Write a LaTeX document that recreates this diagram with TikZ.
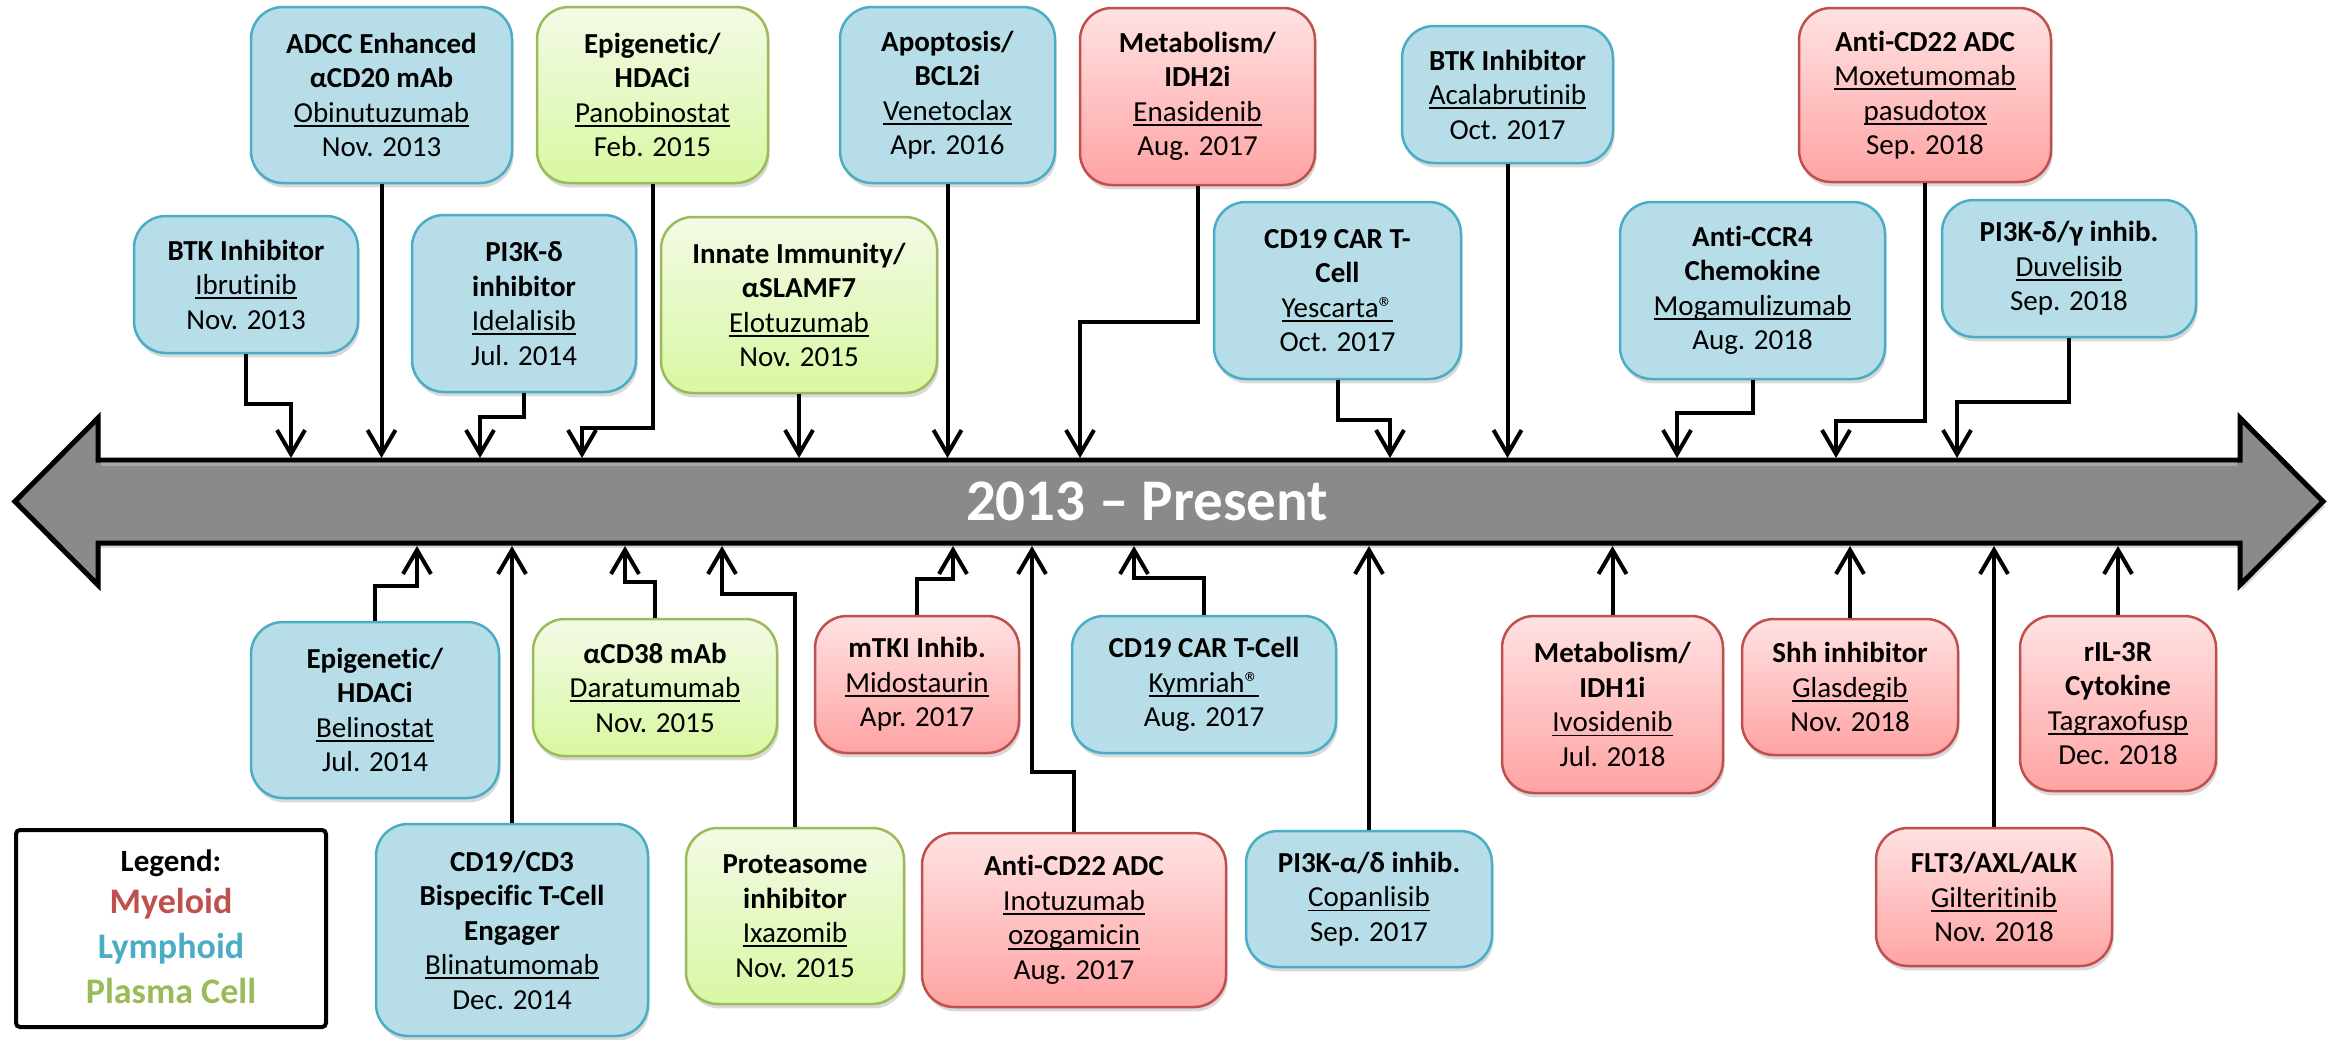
\documentclass[tikz,border=0pt]{standalone}
\usepackage{fontspec}
\setmainfont{Carlito}[Ligatures={NoCommon,NoContextual}]
\usetikzlibrary{arrows.meta,shadows}
\definecolor{lymF}{HTML}{B7DEE8}
\definecolor{lymB}{HTML}{4BACC6}
\definecolor{myeB}{HTML}{C0504D}
\definecolor{myeT}{HTML}{FFE2E2}
\definecolor{myeD}{HTML}{FFA3A3}
\definecolor{plaB}{HTML}{9BBB59}
\definecolor{plaT}{HTML}{F3FAE6}
\definecolor{plaD}{HTML}{D8F8A2}
\definecolor{arrowgray}{HTML}{8A8A8A}
\newsavebox\ulb
\newcommand\ud[1]{\sbox\ulb{#1}\rlap{\rule[-2.3pt]{\wd\ulb}{0.9pt}}\usebox\ulb}
\newcommand\bxf{\fontsize{14.5pt}{17.25pt}\selectfont}
\begin{document}
\begin{tikzpicture}[x=0.5pt,y=-0.5pt,
  cbox/.style={rounded corners=16pt, line width=1.25pt, align=center, inner sep=0pt, font=\bxf,
    drop shadow={shadow xshift=0.8pt, shadow yshift=-2.2pt, opacity=0.3}},
  bluebox/.style={cbox, draw=lymB, fill=lymF},
  redbox/.style={cbox, draw=myeB, top color=myeT, bottom color=myeD},
  greenbox/.style={cbox, draw=plaB, top color=plaT, bottom color=plaD},
  sz/.style 2 args={minimum width=#1, minimum height=#2},
  conn/.style={line width=2pt, line join=miter, -{Straight Barb[length=12pt,width=14pt]}},
  legtext/.style={anchor=base, font=\fontsize{18pt}{21pt}\selectfont\bfseries, inner sep=0pt}
]
\useasboundingbox (0,0) rectangle (2333,1039);

% timeline arrow
\draw[line width=2.5pt, line join=miter, fill=arrowgray,
      drop shadow={shadow xshift=1pt, shadow yshift=-2.5pt, opacity=0.3}]
  (15,501.5) -- (98,418) -- (98,460) -- (2240,460) -- (2240,418) -- (2323,501.5)
  -- (2240,585) -- (2240,543) -- (98,543) -- (98,585) -- cycle;
\draw[white, opacity=0.25, line width=2pt] (101,464) -- (2237,464);
\node[text=white, font=\fontsize{29.5pt}{35pt}\selectfont\bfseries, inner sep=0pt] (title) at (1147,501) {2013 – Present};

% ---------- upper boxes ----------
\node[bluebox, sz={130.5pt}{88pt}] (adcc) at (381.5,95) {\textbf{ADCC Enhanced}\\\textbf{αCD20 mAb}\\\ud{Obinutuzumab}\\Nov. 2013};
\node[greenbox, sz={115.5pt}{88pt}] (pano) at (652.5,95) {\textbf{Epigenetic/}\\\textbf{HDACi}\\\ud{Panobinostat}\\Feb. 2015};
\node[bluebox, sz={107.5pt}{88pt}] (vene) at (947.5,95) {\textbf{Apoptosis/}\\\textbf{BCL2i}\\\ud{Venetoclax}\\Apr. 2016};
\node[redbox, sz={117.5pt}{88.5pt}] (enas) at (1197.5,96.5) {\textbf{Metabolism/}\\\textbf{IDH2i}\\\ud{Enasidenib}\\Aug. 2017};
\node[bluebox, sz={105.5pt}{68.5pt}] (acal) at (1507.5,94.5) {\textbf{BTK Inhibitor}\\\ud{Acalabrutinib}\\Oct. 2017};
\node[redbox, sz={126pt}{87pt}] (moxe) at (1925,95) {\textbf{Anti-CD22 ADC}\\\ud{Moxetumomab}\\\ud{pasudotox}\\Sep. 2018};

\node[bluebox, sz={112pt}{68.5pt}] (ibru) at (246,284.5) {\textbf{BTK Inhibitor}\\\ud{Ibrutinib}\\Nov. 2013};
\node[bluebox, sz={112pt}{88.5pt}] (idel) at (524,303.5) {\textbf{PI3K-δ}\\\textbf{inhibitor}\\\ud{Idelalisib}\\Jul. 2014};
\node[greenbox, sz={138pt}{88pt}] (elot) at (799,305) {\textbf{Innate Immunity/}\\\textbf{αSLAMF7}\\\ud{Elotuzumab}\\Nov. 2015};
\node[bluebox, sz={123.5pt}{88.5pt}] (yesc) at (1337.5,290.5) {\textbf{CD19 CAR T-}\\\textbf{Cell}\\\ud{Yescarta®}\\Oct. 2017};
\node[bluebox, sz={132.5pt}{88.5pt}] (moga) at (1752.5,290.5) {\textbf{Anti-CCR4}\\\textbf{Chemokine}\\\ud{Mogamulizumab}\\Aug. 2018};
\node[bluebox, sz={127pt}{68.5pt}] (duve) at (2069,268.5) {\textbf{PI3K-δ/γ inhib.}\\\ud{Duvelisib}\\Sep. 2018};

% ---------- lower boxes ----------
\node[bluebox, sz={124pt}{88pt}] (beli) at (375,710) {\textbf{Epigenetic/}\\\textbf{HDACi}\\\ud{Belinostat}\\Jul. 2014};
\node[greenbox, sz={122pt}{68.5pt}] (dara) at (655,687.5) {\textbf{αCD38 mAb}\\\ud{Daratumumab}\\Nov. 2015};
\node[redbox, sz={102pt}{68.5pt}] (mido) at (917,684.5) {\textbf{mTKI Inhib.}\\\ud{Midostaurin}\\Apr. 2017};
\node[bluebox, sz={132pt}{68.5pt}] (kymr) at (1204,684.5) {\textbf{CD19 CAR T-Cell}\\\ud{Kymriah®}\\Aug. 2017};
\node[redbox, sz={110.5pt}{88.5pt}] (ivos) at (1612.5,704.5) {\textbf{Metabolism/}\\\textbf{IDH1i}\\\ud{Ivosidenib}\\Jul. 2018};
\node[redbox, sz={108pt}{68pt}] (glas) at (1850,687) {\textbf{Shh inhibitor}\\\ud{Glasdegib}\\Nov. 2018};
\node[redbox, sz={98pt}{87.5pt}] (tagr) at (2118,703.5) {\textbf{rIL-3R}\\\textbf{Cytokine}\\\ud{Tagraxofusp}\\Dec. 2018};

\node[bluebox, sz={136pt}{106pt}] (blin) at (512,930) {\textbf{CD19/CD3}\\\textbf{Bispecific T-Cell}\\\textbf{Engager}\\\ud{Blinatumomab}\\Dec. 2014};
\node[greenbox, sz={109pt}{88pt}] (ixaz) at (795,916) {\textbf{Proteasome}\\\textbf{inhibitor}\\\ud{Ixazomib}\\Nov. 2015};
\node[redbox, sz={152pt}{87pt}] (inot) at (1074,920) {\textbf{Anti-CD22 ADC}\\\ud{Inotuzumab}\\\ud{ozogamicin}\\Aug. 2017};
\node[bluebox, sz={123pt}{68pt}] (copa) at (1369,899) {\textbf{PI3K-α/δ inhib.}\\\ud{Copanlisib}\\Sep. 2017};
\node[redbox, sz={118pt}{69pt}] (gilt) at (1994,897) {\textbf{FLT3/AXL/ALK}\\\ud{Gilteritinib}\\Nov. 2018};

% ---------- legend ----------
\node[draw, line width=2pt, rounded corners=2pt, minimum width=155pt, minimum height=98.5pt, inner sep=0pt, fill=white] (legend) at (171,928.5) {};
\node[anchor=base, font=\fontsize{15.5pt}{18pt}\selectfont\bfseries, inner sep=0pt] (legh) at (171,871) {Legend:};
\node[legtext, text=myeB] (legm) at (171,913) {Myeloid};
\node[legtext, text=lymB] (legl) at (171,958) {Lymphoid};
\node[legtext, text=plaB] (legp) at (171,1003) {Plasma Cell};

% ---------- arrow targets on the timeline ----------
\coordinate (ta-ibru) at (291,458);
\coordinate (ta-adcc) at (381.5,458);
\coordinate (ta-idel) at (480,458);
\coordinate (ta-pano) at (582,458);
\coordinate (ta-elot) at (799,458);
\coordinate (ta-vene) at (947.5,458);
\coordinate (ta-enas) at (1080,458);
\coordinate (ta-yesc) at (1390,458);
\coordinate (ta-acal) at (1507.5,458);
\coordinate (ta-moga) at (1677,458);
\coordinate (ta-moxe) at (1836,458);
\coordinate (ta-duve) at (1957,458);

\coordinate (tb-beli) at (417,546);
\coordinate (tb-blin) at (512,546);
\coordinate (tb-dara) at (625,546);
\coordinate (tb-ixaz) at (722,546);
\coordinate (tb-mido) at (953,546);
\coordinate (tb-inot) at (1032,546);
\coordinate (tb-kymr) at (1134,546);
\coordinate (tb-copa) at (1369,546);
\coordinate (tb-ivos) at (1612.5,546);
\coordinate (tb-glas) at (1850,546);
\coordinate (tb-gilt) at (1994,546);
\coordinate (tb-tagr) at (2118,546);

% ---------- connectors (top) ----------
\draw[conn] (ibru.south) -- (ibru.south |- 0,404) -| (ta-ibru);
\draw[conn] (adcc.south) -- (ta-adcc);
\draw[conn] (idel.south) -- (idel.south |- 0,417) -| (ta-idel);
\draw[conn] (pano.south) -- (pano.south |- 0,428) -| (ta-pano);
\draw[conn] (elot.south) -- (ta-elot);
\draw[conn] (vene.south) -- (ta-vene);
\draw[conn] (enas.south) -- (enas.south |- 0,322) -| (ta-enas);
\draw[conn] (yesc.south) -- (yesc.south |- 0,420) -| (ta-yesc);
\draw[conn] (acal.south) -- (ta-acal);
\draw[conn] (moga.south) -- (moga.south |- 0,413) -| (ta-moga);
\draw[conn] (moxe.south) -- (moxe.south |- 0,421) -| (ta-moxe);
\draw[conn] (duve.south) -- (duve.south |- 0,402) -| (ta-duve);

% ---------- connectors (bottom) ----------
\draw[conn] (beli.north) -- (beli.north |- 0,586) -| (tb-beli);
\draw[conn] (blin.north) -- (tb-blin);
\draw[conn] (dara.north) -- (dara.north |- 0,582) -| (tb-dara);
\draw[conn] (ixaz.north) -- (ixaz.north |- 0,594) -| (tb-ixaz);
\draw[conn] (mido.north) -- (mido.north |- 0,579) -| (tb-mido);
\draw[conn] (inot.north) -- (inot.north |- 0,772) -| (tb-inot);
\draw[conn] (kymr.north) -- (kymr.north |- 0,578) -| (tb-kymr);
\draw[conn] (copa.north) -- (tb-copa);
\draw[conn] (ivos.north) -- (tb-ivos);
\draw[conn] (glas.north) -- (tb-glas);
\draw[conn] (gilt.north) -- (tb-gilt);
\draw[conn] (tagr.north) -- (tb-tagr);
\end{tikzpicture}
\end{document}
